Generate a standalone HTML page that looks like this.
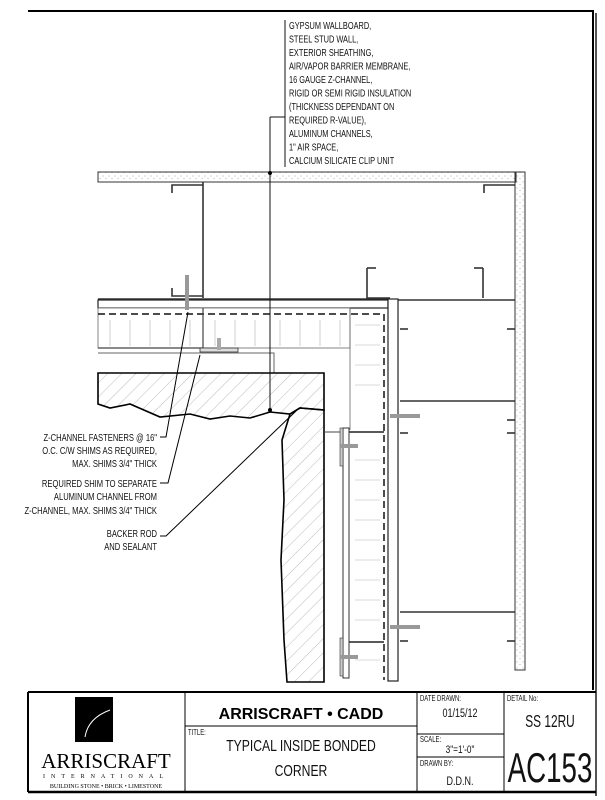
<!DOCTYPE html>
<html><head><meta charset="utf-8"><style>
html,body{margin:0;padding:0;background:#fff;width:605px;height:800px;overflow:hidden}
svg{display:block}
.t{font-family:"Liberation Sans",sans-serif;font-size:10px;fill:#111}
</style></head><body>
<svg width="605" height="800" viewBox="0 0 605 800" xmlns="http://www.w3.org/2000/svg">
<defs>
<pattern id="hatch" width="10" height="10" patternUnits="userSpaceOnUse" patternTransform="rotate(45)">
<line x1="0" y1="0" x2="0" y2="10" stroke="#aaa" stroke-width="0.8"/></pattern>
<pattern id="dots" width="6" height="6" patternUnits="userSpaceOnUse">
<circle cx="1" cy="2" r="0.5" fill="#888"/><circle cx="4" cy="4.5" r="0.5" fill="#999"/></pattern>
</defs>
<polyline points="28,11 593,11 593,690" fill="none" stroke="#000" stroke-width="2"/>
<line x1="596" y1="13" x2="596" y2="796" stroke="#555" stroke-width="2"/>
<rect x="98" y="172" width="418" height="10" fill="url(#dots)" stroke="#333" stroke-width="1"/>
<rect x="515" y="172" width="10" height="498" fill="url(#dots)" stroke="#333" stroke-width="1"/>
<g stroke="#333" stroke-width="1.6" fill="none">
<line x1="203" y1="182" x2="203" y2="298"/>
<polyline points="172,193 172,185 203,185"/><polyline points="172,288 172,296 203,296"/>
<polyline points="367,268 367,298 390,298"/><polyline points="367,268 376,268"/>
<polyline points="483,268 483,298"/><polyline points="483,268 474,268"/>
<polyline points="484,193 484,185 515,185"/>
<line x1="98" y1="299" x2="390" y2="299"/><line x1="390" y1="300" x2="515" y2="300"/>
<line x1="400" y1="401" x2="515" y2="401"/><line x1="400" y1="612" x2="515" y2="612"/>
<line x1="400" y1="329" x2="408" y2="329"/><line x1="507" y1="329" x2="515" y2="329"/>
<line x1="400" y1="433" x2="408" y2="433"/><line x1="507" y1="433" x2="515" y2="433"/>
<line x1="400" y1="641" x2="408" y2="641"/><line x1="507" y1="641" x2="515" y2="641"/>
<line x1="507" y1="420" x2="515" y2="420"/>
</g>
<rect x="98" y="300" width="290" height="8" fill="#fff" stroke="#222" stroke-width="1.2"/>
<rect x="388" y="299" width="10" height="382" fill="#fff" stroke="#222" stroke-width="1.2"/>
<rect x="98" y="308" width="252" height="40" fill="#fff" stroke="#666" stroke-width="0.8"/>
<g stroke="#bbb" stroke-width="0.7">
<line x1="110" y1="320" x2="110" y2="346"/><line x1="130" y1="320" x2="130" y2="346"/><line x1="150" y1="320" x2="150" y2="346"/><line x1="170" y1="320" x2="170" y2="346"/><line x1="190" y1="320" x2="190" y2="346"/><line x1="215" y1="320" x2="215" y2="346"/><line x1="235" y1="320" x2="235" y2="346"/><line x1="255" y1="320" x2="255" y2="346"/><line x1="280" y1="320" x2="280" y2="346"/><line x1="300" y1="320" x2="300" y2="346"/><line x1="320" y1="320" x2="320" y2="346"/><line x1="340" y1="320" x2="340" y2="346"/>
</g>
<g stroke="#ccc" stroke-width="0.7">
<line x1="355" y1="325" x2="380" y2="325"/><line x1="355" y1="345" x2="380" y2="345"/><line x1="355" y1="365" x2="380" y2="365"/><line x1="355" y1="385" x2="380" y2="385"/><line x1="355" y1="460" x2="380" y2="460"/><line x1="355" y1="480" x2="380" y2="480"/><line x1="355" y1="500" x2="380" y2="500"/><line x1="355" y1="520" x2="380" y2="520"/><line x1="355" y1="540" x2="380" y2="540"/><line x1="355" y1="560" x2="380" y2="560"/><line x1="355" y1="580" x2="380" y2="580"/><line x1="355" y1="600" x2="380" y2="600"/><line x1="355" y1="620" x2="380" y2="620"/><line x1="355" y1="660" x2="380" y2="660"/>
</g>
<line x1="350" y1="308" x2="350" y2="430" stroke="#666" stroke-width="0.8"/>
<polyline points="98,314 384,314 384,680" fill="none" stroke="#111" stroke-width="1.5" stroke-dasharray="7,4"/>
<polyline points="203,308 203,348 98,348" fill="none" stroke="#444" stroke-width="1.2"/>
<polyline points="98,353 274,353 274,373" fill="none" stroke="#666" stroke-width="1"/>
<rect x="200" y="348" width="38" height="4" fill="#ddd" stroke="#333" stroke-width="0.8"/>
<rect x="217" y="338" width="4" height="12" fill="#aaa"/>
<rect x="185" y="275" width="4" height="35" fill="#999"/>
<path d="M98,373 L324,373 L324,410 L300,408 L290,414 L270,412 L250,418 L230,416 L210,419 L190,414 L160,417 L130,404 L110,408 L98,404 Z" fill="url(#hatch)" stroke="#000" stroke-width="1.6"/>
<path d="M300,408 L324,410 L324,682 L287,682 L284,640 L281,560 L284,500 L282,440 L290,414 Z" fill="url(#hatch)" stroke="#000" stroke-width="1.6"/>
<line x1="324" y1="432" x2="343" y2="432" stroke="#444"/>
<line x1="343" y1="432" x2="384" y2="432" stroke="#222" stroke-width="1.5"/>
<line x1="343" y1="642" x2="384" y2="642" stroke="#222" stroke-width="1.5"/>
<rect x="343" y="428" width="6" height="250" fill="#fff" stroke="#333" stroke-width="1"/>
<rect x="340" y="428" width="3" height="38" fill="#ccc" stroke="#333" stroke-width="0.6"/>
<rect x="340" y="638" width="3" height="38" fill="#ccc" stroke="#333" stroke-width="0.6"/>
<rect x="340" y="444" width="18" height="4" fill="#999"/><rect x="340" y="655" width="18" height="4" fill="#999"/>
<rect x="390" y="414" width="30" height="4" fill="#999"/><rect x="390" y="625" width="30" height="4" fill="#999"/>
<line x1="270" y1="117" x2="270" y2="410" stroke="#111" stroke-width="1"/>
<polyline points="270,117 285,117" fill="none" stroke="#111"/>
<line x1="285" y1="20" x2="285" y2="167" stroke="#111"/>
<circle cx="270" cy="173" r="2" fill="#000"/><circle cx="270" cy="410" r="2" fill="#000"/>
<g class="t" transform="translate(289,0) scale(0.74,1)">
<text x="0" y="29">GYPSUM WALLBOARD,</text>
<text x="0" y="42.5">STEEL STUD WALL,</text>
<text x="0" y="56">EXTERIOR SHEATHING,</text>
<text x="0" y="69.5">AIR/VAPOR BARRIER MEMBRANE,</text>
<text x="0" y="83">16 GAUGE Z-CHANNEL,</text>
<text x="0" y="96.5">RIGID OR SEMI RIGID INSULATION</text>
<text x="0" y="110">(THICKNESS DEPENDANT ON</text>
<text x="0" y="123.5">REQUIRED R-VALUE),</text>
<text x="0" y="137">ALUMINUM CHANNELS,</text>
<text x="0" y="150.5">1" AIR SPACE,</text>
<text x="0" y="164">CALCIUM SILICATE CLIP UNIT</text>
</g>
<g class="t" text-anchor="end" transform="translate(157,0) scale(0.76,1)">
<text x="0" y="441">Z-CHANNEL FASTENERS @ 16"</text>
<text x="0" y="454">O.C. C/W SHIMS AS REQUIRED,</text>
<text x="0" y="467">MAX. SHIMS 3/4" THICK</text>
<text x="0" y="487">REQUIRED SHIM TO SEPARATE</text>
<text x="0" y="500">ALUMINUM CHANNEL FROM</text>
<text x="0" y="514">Z-CHANNEL, MAX. SHIMS 3/4" THICK</text>
<text x="0" y="537">BACKER ROD</text>
<text x="0" y="550">AND SEALANT</text>
</g>
<g stroke="#000" stroke-width="1" fill="none">
<polyline points="160,437 166,437 188,312"/>
<polyline points="160,483 168,483 200,355"/>
<polyline points="160,536 166,536 297,410"/>
</g>
<line x1="28" y1="692" x2="596" y2="692" stroke="#000" stroke-width="2"/>
<line x1="28" y1="692" x2="28" y2="792" stroke="#000" stroke-width="2"/>
<line x1="28" y1="792" x2="596" y2="792" stroke="#000" stroke-width="2.5"/>
<g stroke="#000" stroke-width="1">
<line x1="185" y1="692" x2="185" y2="792"/><line x1="417" y1="692" x2="417" y2="792"/><line x1="504" y1="692" x2="504" y2="792"/>
<line x1="185" y1="726" x2="417" y2="726"/><line x1="417" y1="734" x2="504" y2="734"/><line x1="417" y1="757" x2="504" y2="757"/>
</g>
<rect x="75" y="697" width="38" height="45" fill="#000"/>
<path d="M85,737 Q88,718 110,710" fill="none" stroke="#fff" stroke-width="1"/>
<text x="106" y="768" text-anchor="middle" style="font-family:'Liberation Serif',serif;font-size:21px">ARRISCRAFT</text>
<text x="106" y="778" text-anchor="middle" style="font-family:'Liberation Serif',serif;font-size:6px;letter-spacing:6px">INTERNATIONAL</text>
<text x="106" y="788" text-anchor="middle" style="font-family:'Liberation Serif',serif;font-size:6px">BUILDING STONE • BRICK • LIMESTONE</text>
<text x="301" y="719" text-anchor="middle" style="font-family:'Liberation Sans',sans-serif;font-weight:bold;font-size:16px">ARRISCRAFT • CADD</text>
<g class="t" transform="translate(301,0) scale(0.76,1)" text-anchor="middle" style="font-size:16px">
<text x="0" y="751">TYPICAL INSIDE BONDED</text>
<text x="0" y="776">CORNER</text>
</g>
<g class="t" transform="translate(188,0) scale(0.7,1)" style="font-size:8.5px"><text x="0" y="735">TITLE:</text></g>
<g class="t" transform="translate(420,0) scale(0.7,1)" style="font-size:8.5px">
<text x="0" y="701">DATE DRAWN:</text><text x="0" y="742">SCALE:</text><text x="0" y="766">DRAWN BY:</text>
</g>
<g class="t" transform="translate(507,0) scale(0.7,1)" style="font-size:8.5px"><text x="0" y="701">DETAIL No:</text></g>
<g class="t" transform="translate(460,0) scale(0.75,1)" text-anchor="middle">
<text x="0" y="717" style="font-size:12px">01/15/12</text>
<text x="0" y="753" style="font-size:11px">3"=1'-0"</text>
<text x="0" y="785" style="font-size:12px">D.D.N.</text>
</g>
<g class="t" transform="translate(550,0) scale(0.66,1)" text-anchor="middle">
<text x="0" y="727" style="font-size:18px">SS 12RU</text>
<text x="0" y="782" style="font-size:42px">AC153</text>
</g>
</svg>
</body></html>
